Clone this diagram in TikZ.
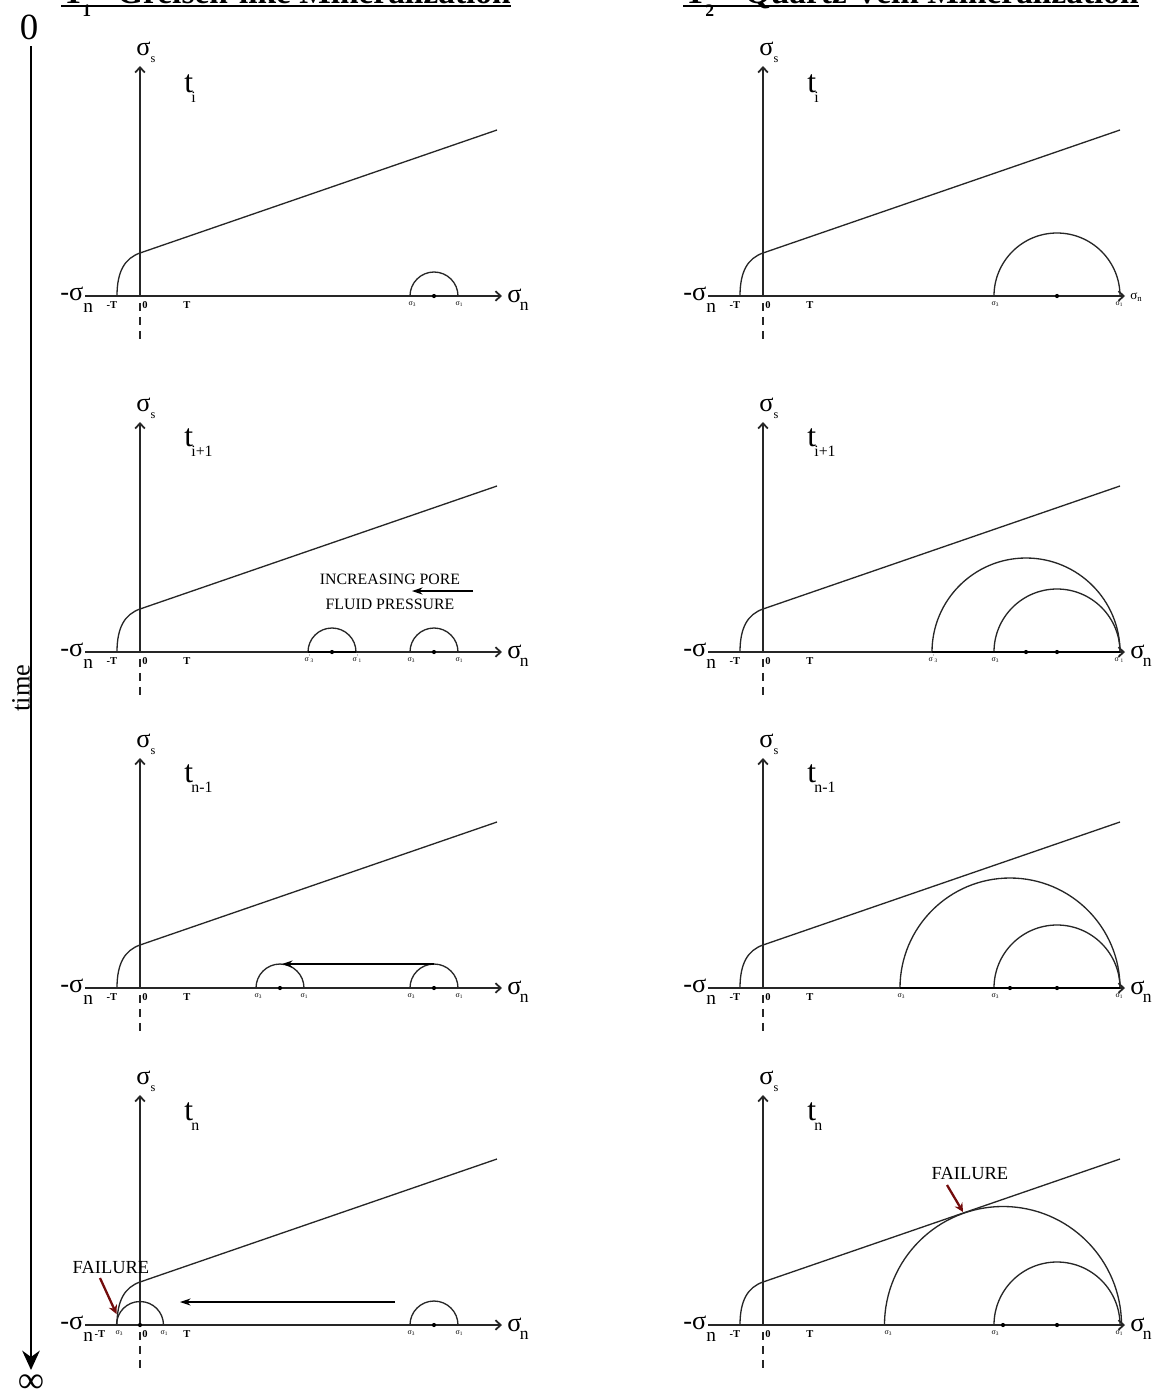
\documentclass[tikz,border=0pt]{standalone}
\usepackage{fontspec}
\setmainfont{Liberation Serif}
\usetikzlibrary{arrows.meta}
\definecolor{failred}{RGB}{115,12,12}
\newcommand{\fs}[1]{\fontsize{#1}{#1}\selectfont}
\newcommand{\pxu}{0.02cm}
\tikzset{
  axisline/.style={line width=0.75pt,black!85,-{Straight Barb[length=3pt,width=5.5pt,line width=1pt]}},
  dashline/.style={line width=0.7pt,black!85,dash pattern=on 4.5pt off 3.4pt},
  env/.style={line width=0.75pt,black!85},
  mcircle/.style={line width=0.75pt,black!85},
  thickseg/.style={line width=1.5pt},
  thinarrow/.style={line width=0.6pt,-{Stealth[length=6pt,width=4pt]}},
  redarrow/.style={line width=1.3pt,failred,-{Stealth[length=5pt,width=5pt]}},
  timearrow/.style={line width=1.4pt,-{Stealth[length=11pt,width=10pt]}},
  biglbl/.style={font=\fs{15pt},inner sep=0pt},
  tlbl/.style={font=\fs{18pt},inner sep=0pt},
  ticklbl/.style={font=\fs{6pt}\bfseries,inner sep=0pt,anchor=base},
  tinylbl/.style={font=\fs{4.5pt},inner sep=0pt,anchor=base},
  smalltext/.style={font=\fs{9pt},inner sep=0pt},
  failtext/.style={font=\fs{10.5pt},inner sep=0pt},
  titlebig/.style={font=\fs{19pt}\bfseries,inner sep=0pt},
  titlesub/.style={font=\fs{10pt}\bfseries,inner sep=0pt,anchor=base west},
}
% one Mohr diagram frame: #1 prefix, #2 x shift, #3 axis y, #4 x of -T label
\newcommand{\mframe}[4]{%
\begin{scope}[shift={(#2,#3)}]
  \coordinate (#1O) at (140,0);
  \coordinate (#1Vtop) at (140,-230);
  \coordinate (#1Hl) at (85,0);
  \coordinate (#1Hr) at (502,0);
  \coordinate (#1Da) at (140,7);
  \coordinate (#1Db) at (140,47);
  \coordinate (#1Ea) at (117,0);
  \coordinate (#1Eb) at (140,-43);
  \coordinate (#1Ec) at (497,-166);
  \draw[axisline] (#1O) -- (#1Vtop);
  \draw[axisline] (#1Hl) -- (#1Hr);
  \draw[dashline] (#1Da) -- (#1Db);
  \draw[env] (#1Ea) .. controls (117,-25) and (125,-37.8) .. (#1Eb) -- (#1Ec);
  \node[biglbl,anchor=base west] (#1ss) at (136,-241) {σ\raisebox{-4pt}{\fs{7pt}s}};
  \node[biglbl,anchor=base west] (#1mn) at (60,4) {-σ\raisebox{-7pt}{\fs{11pt}n}};
  \node[ticklbl] (#1mT) at (#4,12) {-T};
  \node[ticklbl] (#1z) at (145,12) {0};
  \node[ticklbl] (#1T) at (187,12) {T};
\end{scope}}
% semicircle with centre dot: #1 name, #2 cx, #3 cy, #4 radius (px)
\newcommand{\mohr}[4]{%
  \coordinate (#1) at (#2,#3);
  \draw[mcircle] (#1) ++(#4,0) arc[start angle=0,end angle=180,radius=#4*\pxu];
  \fill (#1) circle[radius=1.2pt];}
% tiny sigma labels: #1 name, #2 x, #3 y, #4 subscript
\newcommand{\slab}[4]{\node[tinylbl] (#1) at (#2,#3) {σ\raisebox{-1pt}{\fs{3pt}#4}};}
\newcommand{\slabp}[4]{\node[tinylbl] (#1) at (#2,#3) {σ\raisebox{1.5pt}{\fs{3pt}'}\raisebox{-1pt}{\fs{3pt}#4}};}
% time label: #1 name, #2 x, #3 y, #4 subscript
\newcommand{\tlab}[4]{\node[tlbl,anchor=base west] (#1) at (#2,#3) {t\kern-1pt\raisebox{-6pt}{\fs{9pt}#4}};}

\begin{document}
\begin{tikzpicture}[x=0.02cm,y=-0.02cm]
\useasboundingbox (0,0) rectangle (1152,1397);
\fill[white] (0,0) rectangle (1152,1397);
\clip (0,0) rectangle (1152,1397);

% ---------- titles ----------
\node[titlebig,anchor=base west] (ti1T) at (62,3.5) {T};
\node[titlesub] (ti1s) at (82,16) {1};
\node[titlebig,anchor=base east] (ti1x) at (511,3.5) {Greisen-like Mineralization};
\coordinate (ul1a) at (61,5.8); \coordinate (ul1b) at (511,5.8);
\draw[line width=1.2pt] (ul1a) -- (ul1b);
\node[titlebig,anchor=base west] (ti2T) at (684,3.5) {T};
\node[titlesub] (ti2s) at (705,16) {2};
\node[titlebig,anchor=base east] (ti2x) at (1139,3.5) {Quartz Vein Mineralization};
\coordinate (ul2a) at (683,5.8); \coordinate (ul2b) at (1139,5.8);
\draw[line width=1.2pt] (ul2a) -- (ul2b);

% ---------- time axis ----------
\node[font=\fs{21pt},inner sep=0pt] (zero) at (29,27) {0};
\coordinate (tl0) at (31,46); \coordinate (tl1) at (31,1370);
\draw[timearrow] (tl0) -- (tl1);
\node[font=\fs{21pt},inner sep=0pt] (inf) at (31,1384) {∞};
\node[font=\fs{15pt},inner sep=0pt,rotate=90] (time) at (21,688) {time};

% ---------- frames ----------
\mframe{a}{0}{296}{112}
\mframe{b}{623}{296}{112}
\mframe{c}{0}{652}{112}
\mframe{d}{623}{652}{112}
\mframe{e}{0}{988}{112}
\mframe{f}{623}{988}{112}
\mframe{g}{0}{1325}{100}
\mframe{h}{623}{1325}{112}

% sigma_n labels at right
\node[biglbl,anchor=base west] (asn) at (507,302) {σ\kern-1pt\raisebox{-5pt}{\fs{10pt}n}};
\node[font=\fs{7.5pt},inner sep=0pt,anchor=base west] (bsn) at (1130,299) {σ\raisebox{-1.5pt}{\fs{5pt}n}};
\node[biglbl,anchor=base west] (csn) at (507,658) {σ\kern-1pt\raisebox{-5pt}{\fs{10pt}n}};
\node[biglbl,anchor=base west] (dsn) at (1130,658) {σ\kern-1pt\raisebox{-5pt}{\fs{10pt}n}};
\node[biglbl,anchor=base west] (esn) at (507,994) {σ\kern-1pt\raisebox{-5pt}{\fs{10pt}n}};
\node[biglbl,anchor=base west] (fsn) at (1130,994) {σ\kern-1pt\raisebox{-5pt}{\fs{10pt}n}};
\node[biglbl,anchor=base west] (gsn) at (507,1331) {σ\kern-1pt\raisebox{-5pt}{\fs{10pt}n}};
\node[biglbl,anchor=base west] (hsn) at (1130,1331) {σ\kern-1pt\raisebox{-5pt}{\fs{10pt}n}};

% time step labels
\tlab{at}{184}{92}{i}
\tlab{bt}{807}{92}{i}
\tlab{ct}{184}{446}{i+1}
\tlab{dt}{807}{446}{i+1}
\tlab{et}{184}{782}{n-1}
\tlab{ft}{807}{782}{n-1}
\tlab{gt}{184}{1120}{n}
\tlab{ht}{807}{1120}{n}

% ---------- panel 1 ----------
\mohr{c1L}{434}{296}{24}
\slab{l1a}{412}{305}{3}
\slab{l1b}{459}{305}{1}
\mohr{c1R}{1057}{296}{63}
\slab{l1c}{995}{305}{3}
\slab{l1d}{1119}{305}{1}

% ---------- panel 2 ----------
\mohr{c2La}{332}{652}{24}
\mohr{c2Lb}{434}{652}{24}
\coordinate (s2a) at (308,652); \coordinate (s2b) at (356,652);
\draw[thickseg] (s2a) -- (s2b);
\slabp{l2a}{309}{661}{3}
\slabp{l2b}{357}{661}{1}
\slab{l2c}{411}{661}{3}
\slab{l2d}{459}{661}{1}
\node[smalltext] (ipp) at (390,579) {INCREASING PORE};
\node[smalltext] (fpp) at (390,604) {FLUID PRESSURE};
\coordinate (p2a) at (473,591); \coordinate (p2b) at (412,591);
\draw[thinarrow] (p2a) -- (p2b);
\mohr{c2Ra}{1026}{652}{94}
\mohr{c2Rb}{1057}{652}{63}
\coordinate (s2c) at (932,652); \coordinate (s2d) at (1120,652);
\draw[thickseg] (s2c) -- (s2d);
\slabp{l2e}{933}{661}{3}
\slab{l2f}{995}{661}{3}
\slabp{l2g}{1119}{661}{1}

% ---------- panel 3 ----------
\mohr{c3La}{280}{988}{24}
\mohr{c3Lb}{434}{988}{24}
\slab{l3a}{258}{997}{3}
\slab{l3b}{304}{997}{1}
\slab{l3c}{411}{997}{3}
\slab{l3d}{459}{997}{1}
\coordinate (p3a) at (434,964); \coordinate (p3b) at (282,964);
\draw[thinarrow] (p3a) -- (p3b);
\mohr{c3Ra}{1010}{988}{110}
\mohr{c3Rb}{1057}{988}{63}
\coordinate (s3c) at (900,988); \coordinate (s3d) at (1120,988);
\draw[thickseg] (s3c) -- (s3d);
\slab{l3e}{901}{997}{3}
\slab{l3f}{995}{997}{3}
\slab{l3g}{1119}{997}{1}

% ---------- panel 4 ----------
\mohr{c4La}{140}{1325}{23.5}
\mohr{c4Lb}{434}{1325}{24}
\slab{l4a}{119}{1334}{3}
\slab{l4b}{164}{1334}{1}
\slab{l4c}{411}{1334}{3}
\slab{l4d}{459}{1334}{1}
\coordinate (p4a) at (395,1302); \coordinate (p4b) at (180,1302);
\draw[thinarrow] (p4a) -- (p4b);
\node[failtext] (f4L) at (111,1267) {FAILURE};
\coordinate (f4La) at (100,1278); \coordinate (f4Lb) at (116.5,1314);
\draw[redarrow] (f4La) -- (f4Lb);
\mohr{c4Ra}{1003}{1325}{118.5}
\mohr{c4Rb}{1057}{1325}{63}
\slab{l4e}{888}{1334}{3}
\slab{l4f}{995}{1334}{3}
\slab{l4g}{1119}{1334}{1}
\node[failtext] (f4R) at (970,1173) {FAILURE};
\coordinate (f4Ra) at (947,1185); \coordinate (f4Rb) at (963,1212);
\draw[redarrow] (f4Ra) -- (f4Rb);
\end{tikzpicture}
\end{document}
